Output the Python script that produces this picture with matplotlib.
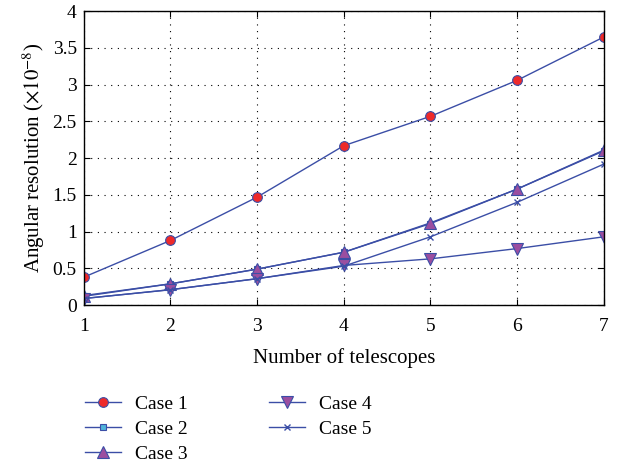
import matplotlib
matplotlib.use("Agg")
import matplotlib.pyplot as plt

plt.rcParams["font.family"] = ["Liberation Serif", "DejaVu Serif"]
plt.rcParams["mathtext.fontset"] = "stix"

telescopes = [1, 2, 3, 4, 5, 6, 7]
case1 = [0.38, 0.88, 1.47, 2.17, 2.57, 3.06, 3.65]
case2 = [0.12, 0.29, 0.49, 0.72, 1.11, 1.58, 2.10]
case3 = [0.13, 0.29, 0.49, 0.72, 1.12, 1.58, 2.11]
case4 = [0.09, 0.21, 0.36, 0.54, 0.63, 0.77, 0.93]
case5 = [0.09, 0.21, 0.36, 0.53, 0.93, 1.40, 1.92]
labels = ["Case 1", "Case 2", "Case 3", "Case 4", "Case 5"]

line_c = "#3b4ea6"
fig = plt.figure(figsize=(6.2, 4.68), dpi=100)
ax = fig.add_axes([0.135, 0.348, 0.839, 0.628])

ax.plot(telescopes, case1, color=line_c, lw=1, marker="o", ms=7,
        mfc="#ee2a2a", mec=line_c, mew=0.8, label=labels[0])
ax.plot(telescopes, case2, color=line_c, lw=1, marker="s", ms=5,
        mfc="#4fb3d9", mec=line_c, mew=0.8, label=labels[1])
ax.plot(telescopes, case3, color=line_c, lw=1, marker="^", ms=8,
        mfc="#9b4ea0", mec=line_c, mew=0.8, label=labels[2])
ax.plot(telescopes, case4, color=line_c, lw=1, marker="v", ms=8,
        mfc="#9b4ea0", mec=line_c, mew=0.8, label=labels[3])
ax.plot(telescopes, case5, color=line_c, lw=1, marker="x", ms=5,
        mec=line_c, mew=1, label=labels[4])

ax.set_xlim(1, 7)
ax.set_ylim(0, 4)
ax.set_xticks(telescopes)
ax.set_yticks([0, 0.5, 1, 1.5, 2, 2.5, 3, 3.5, 4])
ax.set_yticklabels(["0", "0.5", "1", "1.5", "2", "2.5", "3", "3.5", "4"])
ax.tick_params(direction="in", top=True, right=True, labelsize=14, length=4)
ax.tick_params(axis="x", pad=9)
ax.tick_params(axis="y", pad=5)
ax.grid(True, color="black", linestyle=(0, (1, 5)), lw=0.8)
for s in ax.spines.values():
    s.set_linewidth(1)

ax.set_xlabel("Number of telescopes", fontsize=15, labelpad=10)
ax.set_ylabel(r"Angular resolution ($\times10^{-8}$)", fontsize=15)

fig.legend(loc="upper left", bbox_to_anchor=(0.109, 0.192),
           ncol=2, frameon=False, fontsize=14, handlelength=1.85,
           columnspacing=4.2, labelspacing=0.38, handletextpad=0.7)

fig.savefig("out.png", dpi=100)
